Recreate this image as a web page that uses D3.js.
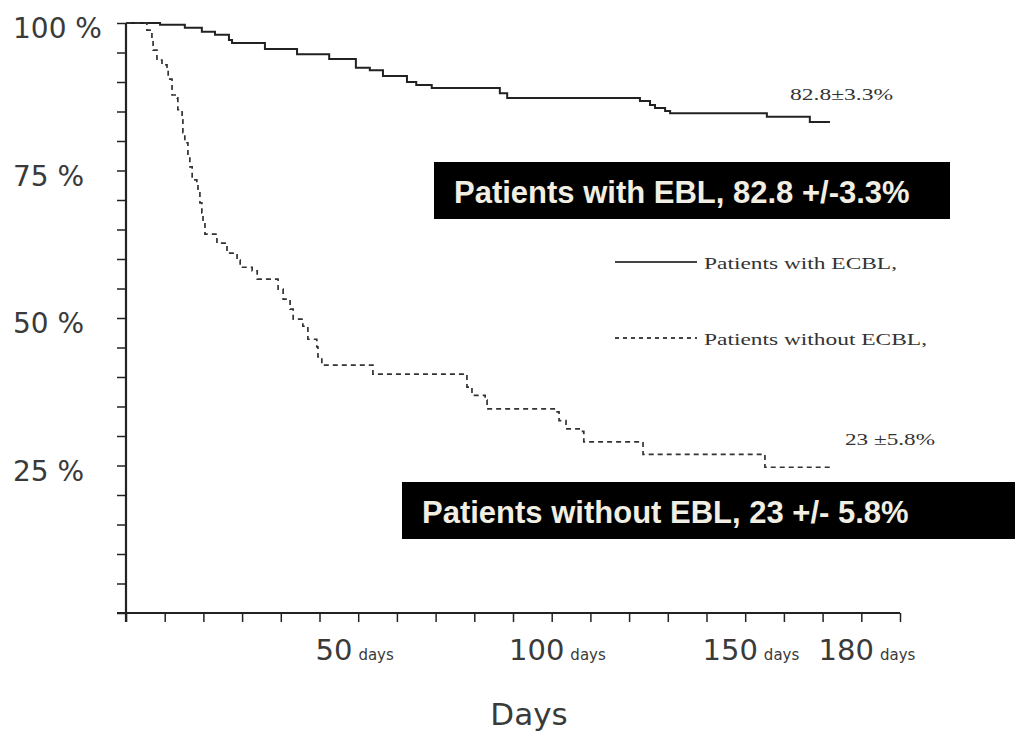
<!DOCTYPE html>
<html>
<head>
<meta charset="utf-8">
<script src="https://cdn.jsdelivr.net/npm/d3@7"></script>
<style>
  body { margin: 0; background: #fff; }
  svg { display: block; }
</style>
</head>
<body>
<div id="container"><svg></svg></div>
<script>
const W = 1033, H = 739;

// survival curves (day the level starts, survival %)
const withDays = [0, 8.8, 15.2, 19.6, 23, 26.6, 27.4, 35.9, 44.2, 52.5, 59.4, 63, 66.4, 72.6, 75, 79, 96.6, 98.5, 132.8, 135.4, 136.7, 139.3, 140.6, 165.6, 176.7, 181.9];
const withSurv = [100, 99.7, 99.2, 98.5, 98.0, 97.1, 96.6, 95.6, 94.7, 93.9, 92.4, 92.0, 91.0, 90.0, 89.5, 89.0, 88.1, 87.3, 86.8, 86.1, 85.6, 85.1, 84.7, 84.1, 83.2, 83.2];

const withoutDays = [0, 5.4, 6.7, 7.0, 8.0, 9.3, 10.6, 10.9, 11.9, 13.2, 13.4, 14.5, 14.7, 15.2, 16.0, 16.5, 17.1, 18.3, 18.6, 19.1, 19.6, 19.9, 20.4, 23.5, 26.1, 28.7, 29.5, 32.6, 33.9, 39.3, 40.6, 42.4, 43.2, 45.7, 47.0, 49.3, 49.6, 50.6, 63.8, 88.1, 89.4, 92.8, 93.3, 111.4, 111.9, 113.7, 117.1, 118.3, 133.6, 165.1, 181.9];
const withoutSurv = [100, 98.8, 97.1, 95.4, 93.7, 92.9, 92.5, 90.5, 87.8, 87.3, 85.3, 83.6, 81.4, 79.7, 77.3, 75.6, 73.4, 72.9, 71.2, 69.5, 67.8, 66.1, 64.2, 62.7, 61.0, 59.8, 58.6, 58.0, 56.6, 54.9, 53.2, 51.5, 49.8, 48.6, 46.4, 45.1, 43.4, 42.0, 40.5, 38.3, 36.9, 36.1, 34.6, 34.1, 32.6, 31.2, 30.8, 29.0, 26.9, 24.7, 24.7];

const yTicks = [25, 50, 75, 100];
const xTicks = [50, 100, 150, 180];
const boxLabels = ['Patients with EBL, 82.8 +/-3.3%', 'Patients without EBL, 23 +/- 5.8%'];
const legendLabels = ['Patients with ECBL,', 'Patients without ECBL,'];
const endLabels = ['82.8±3.3%', '23 ±5.8%'];

const svg = d3.select('#container').select('svg')
    .attr('width', W)
    .attr('height', H);

const x = d3.scaleLinear().domain([0, 200]).range([126, 900]);
const y = d3.scaleLinear().domain([0, 100]).range([613, 23]);

const AXIS_COLOR = '#222';
const TEXT_COLOR = '#3a3a3a';

// axes: minor ticks every 10 days / 5 %
svg.append('g')
    .attr('transform', `translate(0, ${y(0)})`)
    .call(d3.axisBottom(x).tickValues(d3.range(0, 201, 10)).tickSize(9).tickFormat(''))
    .call(g => g.select('.domain').remove())
    .call(g => g.selectAll('line').attr('stroke', AXIS_COLOR).attr('stroke-width', 1.5));

svg.append('g')
    .attr('transform', `translate(${x(0)}, 0)`)
    .call(d3.axisLeft(y).tickValues(d3.range(0, 101, 5)).tickSize(9).tickFormat(''))
    .call(g => g.select('.domain').remove())
    .call(g => g.selectAll('line').attr('stroke', AXIS_COLOR).attr('stroke-width', 1.5));

svg.append('line')
    .attr('x1', x(0) - 9).attr('x2', x(200))
    .attr('y1', y(0)).attr('y2', y(0))
    .attr('stroke', AXIS_COLOR).attr('stroke-width', 2);

svg.append('line')
    .attr('x1', x(0)).attr('x2', x(0))
    .attr('y1', y(100)).attr('y2', y(0) + 9)
    .attr('stroke', AXIS_COLOR).attr('stroke-width', 2.2);

// y labels
svg.selectAll('.ylab')
    .data(yTicks)
    .enter().append('text')
    .attr('class', 'ylab')
    .attr('x', 13)
    .attr('y', d => y(d) + 15)
    .attr('font-family', 'DejaVu Sans')
    .attr('font-size', 28)
    .attr('fill', TEXT_COLOR)
    .text(d => d + ' %');

// x labels
let xl = svg.selectAll('.xlab')
    .data(xTicks)
    .enter().append('text')
    .attr('class', 'xlab')
    .attr('x', d => x(d) - 4)
    .attr('y', 660)
    .attr('font-family', 'DejaVu Sans')
    .attr('fill', TEXT_COLOR);
xl.append('tspan').attr('font-size', 29).text(d => d);
xl.append('tspan').attr('font-size', 15).attr('dx', 6).text('days');

svg.append('text')
    .attr('x', 529)
    .attr('y', 725)
    .attr('text-anchor', 'middle')
    .attr('font-family', 'DejaVu Sans')
    .attr('font-size', 31)
    .attr('fill', TEXT_COLOR)
    .text('Days');

// curves
const line = d3.line()
    .x(d => x(d[0]))
    .y(d => y(d[1]))
    .curve(d3.curveStepAfter);

svg.append('path')
    .datum(d3.zip(withDays, withSurv))
    .attr('d', line)
    .attr('fill', 'none')
    .attr('stroke', '#222')
    .attr('stroke-width', 2);

svg.append('path')
    .datum(d3.zip(withoutDays, withoutSurv))
    .attr('d', line)
    .attr('fill', 'none')
    .attr('stroke', '#333')
    .attr('stroke-width', 1.7)
    .attr('stroke-dasharray', '5,4');

// legend
const legend = [
    {y: 262, dash: null, w: 193},
    {y: 338, dash: '4,4', w: 223}
];
legend.forEach((l, i) => {
    svg.append('line')
        .attr('x1', 615).attr('x2', 697)
        .attr('y1', l.y).attr('y2', l.y)
        .attr('stroke', '#444')
        .attr('stroke-width', 1.8)
        .attr('stroke-dasharray', l.dash);
    svg.append('text')
        .attr('x', 704)
        .attr('y', l.y + 7)
        .attr('font-family', 'Liberation Serif')
        .attr('font-size', 17)
        .attr('fill', '#333')
        .attr('textLength', l.w)
        .attr('lengthAdjust', 'spacingAndGlyphs')
        .text(legendLabels[i]);
});

// end-of-curve values
const ends = [{x: 790, y: 100, w: 103}, {x: 845, y: 445, w: 90}];
ends.forEach((e, i) => {
    svg.append('text')
        .attr('x', e.x)
        .attr('y', e.y)
        .attr('font-family', 'Liberation Serif')
        .attr('font-size', 17)
        .attr('fill', '#333')
        .attr('textLength', e.w)
        .attr('lengthAdjust', 'spacingAndGlyphs')
        .text(endLabels[i]);
});

// black annotation boxes
const boxes = [
    {x: 434, y: 162, w: 516, h: 57},
    {x: 402, y: 482, w: 613, h: 57}
];
boxes.forEach((b, i) => {
    svg.append('rect')
        .attr('x', b.x).attr('y', b.y)
        .attr('width', b.w).attr('height', b.h)
        .attr('fill', '#000');
    svg.append('text')
        .attr('x', b.x + 20)
        .attr('y', b.y + 41)
        .attr('font-family', 'Liberation Sans, Arial')
        .attr('font-weight', 'bold')
        .attr('font-size', 31)
        .attr('fill', '#f1eee3')
        .text(boxLabels[i]);
});
</script>
</body>
</html>
